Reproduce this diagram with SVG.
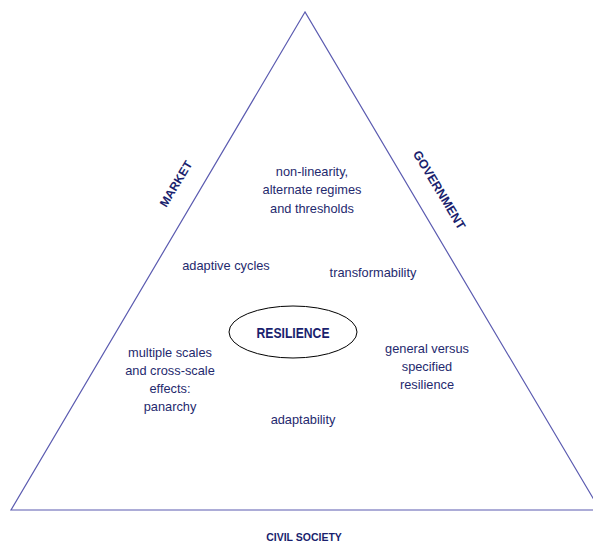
<svg xmlns="http://www.w3.org/2000/svg" width="593" height="544" viewBox="0 0 593 544">
<style>
.t{font-family:"Liberation Sans",Arial,sans-serif;font-size:12.8px;fill:#1f2a6e;text-anchor:middle}
.b{font-family:"Liberation Sans",Arial,sans-serif;font-size:11px;font-weight:bold;fill:#1a1f6e;text-anchor:middle}
</style>
<rect width="593" height="544" fill="#fff"/>
<g id="connectors">
<path d="M305,12 L11,510 L600,510 Z" fill="none" stroke="#5b5bb0" stroke-width="1.2"/>
</g>
<g id="market"><text class="b" transform="translate(176,184) rotate(-59)" dy="4" style="font-size:12px">MARKET</text></g>
<g id="government"><text class="b" transform="translate(439,190) rotate(59)" dy="4" style="font-size:12.5px">GOVERNMENT</text></g>
<g id="civil"><text class="b" x="304" y="541" style="font-size:10.5px">CIVIL SOCIETY</text></g>
<g id="nonlinearity"><text class="t" x="312" y="176">non-linearity,</text><text class="t" x="312" y="194">alternate regimes</text><text class="t" x="312" y="213">and thresholds</text></g>
<g id="adaptive"><text class="t" x="226" y="270">adaptive cycles</text></g>
<g id="transform"><text class="t" x="373" y="277">transformability</text></g>
<g id="resilience"><ellipse cx="293" cy="332" rx="64" ry="26" fill="none" stroke="#000" stroke-width="1"/><text class="b" x="293" y="338" style="font-size:15px" textLength="73" lengthAdjust="spacingAndGlyphs">RESILIENCE</text></g>
<g id="multiple"><text class="t" x="170" y="357">multiple scales</text><text class="t" x="170" y="375">and cross-scale</text><text class="t" x="170" y="393">effects:</text><text class="t" x="170" y="411">panarchy</text></g>
<g id="general"><text class="t" x="427" y="353">general versus</text><text class="t" x="427" y="371">specified</text><text class="t" x="427" y="389">resilience</text></g>
<g id="adaptability"><text class="t" x="303" y="424">adaptability</text></g>
</svg>
